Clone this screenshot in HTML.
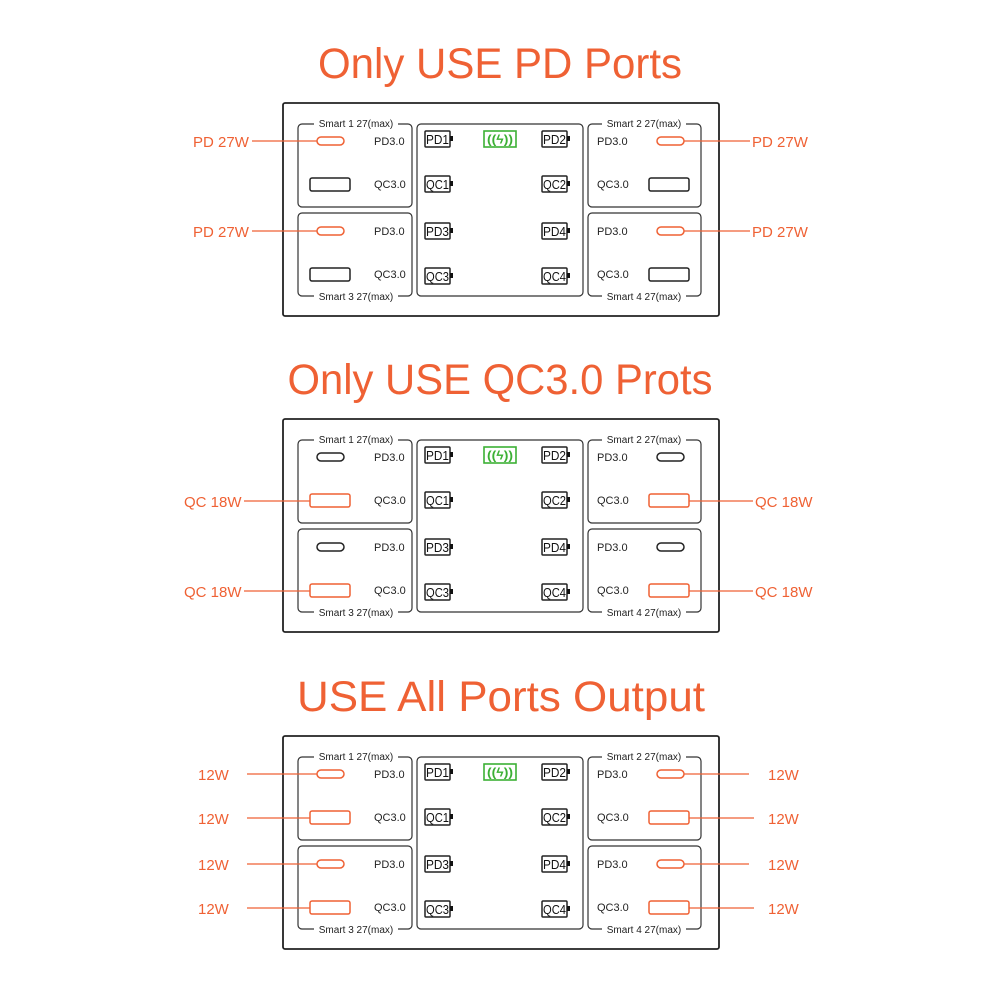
<!DOCTYPE html>
<html><head><meta charset="utf-8"><style>
html,body{margin:0;padding:0;background:#fff;}
svg{display:block;font-family:"Liberation Sans",sans-serif;}
.t{fill:#ef6134;font-size:43px;}
.s{font-size:10px;fill:#222;}
.p{font-size:11px;fill:#222;}
.c{font-size:12.5px;fill:#111;}
.o{fill:#ef6134;font-size:15px;}
.w{font-size:12px;fill:#3cb035;font-weight:bold;}
.box{fill:none;stroke:#333;stroke-width:1.2;}
.k{fill:none;stroke:#222;stroke-width:1.5;}
.r{fill:none;stroke:#ef6134;stroke-width:1.5;}
.l{stroke:#ef6134;stroke-width:1.3;}
</style></head><body>
<svg width="1000" height="1000" viewBox="0 0 1000 1000" xmlns="http://www.w3.org/2000/svg">
<text class="t" x="500" y="78" text-anchor="middle" textLength="364" lengthAdjust="spacingAndGlyphs">Only USE PD Ports</text>
<text class="t" x="500" y="394" text-anchor="middle" textLength="425" lengthAdjust="spacingAndGlyphs">Only USE QC3.0 Prots</text>
<text class="t" x="501" y="711" text-anchor="middle" textLength="408" lengthAdjust="spacingAndGlyphs">USE All Ports Output</text>

<!-- Panel 1 -->
<g transform="translate(0,0)">
<rect x="283" y="103" width="436" height="213" rx="2" fill="none" stroke="#222" stroke-width="1.8"/>
<rect class="box" x="298" y="124" width="114" height="83" rx="4"/>
<rect class="box" x="298" y="213" width="114" height="83" rx="4"/>
<rect class="box" x="417" y="124" width="166" height="172" rx="4"/>
<rect class="box" x="588" y="124" width="113" height="83" rx="4"/>
<rect class="box" x="588" y="213" width="113" height="83" rx="4"/>
<rect x="314" y="117" width="84" height="12" fill="#fff"/><text class="s" x="356" y="127" text-anchor="middle">Smart 1 27(max)</text>
<rect x="314" y="290" width="84" height="12" fill="#fff"/><text class="s" x="356" y="300" text-anchor="middle">Smart 3 27(max)</text>
<rect x="602" y="117" width="84" height="12" fill="#fff"/><text class="s" x="644" y="127" text-anchor="middle">Smart 2 27(max)</text>
<rect x="602" y="290" width="84" height="12" fill="#fff"/><text class="s" x="644" y="300" text-anchor="middle">Smart 4 27(max)</text>
<text class="p" x="374" y="145">PD3.0</text><text class="p" x="374" y="188">QC3.0</text>
<text class="p" x="374" y="235">PD3.0</text><text class="p" x="374" y="278">QC3.0</text>
<text class="p" x="597" y="145">PD3.0</text><text class="p" x="597" y="188">QC3.0</text>
<text class="p" x="597" y="235">PD3.0</text><text class="p" x="597" y="278">QC3.0</text>
<rect class="k" x="425" y="131" width="25" height="16" rx="1"/><rect x="450" y="136" width="3" height="5" fill="#111"/><text class="c" x="426" y="144" textLength="23" lengthAdjust="spacingAndGlyphs">PD1</text>
<rect class="k" x="542" y="131" width="25" height="16" rx="1"/><rect x="567" y="136" width="3" height="5" fill="#111"/><text class="c" x="543" y="144" textLength="23" lengthAdjust="spacingAndGlyphs">PD2</text>
<rect class="k" x="425" y="176" width="25" height="16" rx="1"/><rect x="450" y="181" width="3" height="5" fill="#111"/><text class="c" x="426" y="189" textLength="23" lengthAdjust="spacingAndGlyphs">QC1</text>
<rect class="k" x="542" y="176" width="25" height="16" rx="1"/><rect x="567" y="181" width="3" height="5" fill="#111"/><text class="c" x="543" y="189" textLength="23" lengthAdjust="spacingAndGlyphs">QC2</text>
<rect class="k" x="425" y="223" width="25" height="16" rx="1"/><rect x="450" y="228" width="3" height="5" fill="#111"/><text class="c" x="426" y="236" textLength="23" lengthAdjust="spacingAndGlyphs">PD3</text>
<rect class="k" x="542" y="223" width="25" height="16" rx="1"/><rect x="567" y="228" width="3" height="5" fill="#111"/><text class="c" x="543" y="236" textLength="23" lengthAdjust="spacingAndGlyphs">PD4</text>
<rect class="k" x="425" y="268" width="25" height="16" rx="1"/><rect x="450" y="273" width="3" height="5" fill="#111"/><text class="c" x="426" y="281" textLength="23" lengthAdjust="spacingAndGlyphs">QC3</text>
<rect class="k" x="542" y="268" width="25" height="16" rx="1"/><rect x="567" y="273" width="3" height="5" fill="#111"/><text class="c" x="543" y="281" textLength="23" lengthAdjust="spacingAndGlyphs">QC4</text>
<rect x="484" y="131" width="32" height="16" fill="none" stroke="#3cb035" stroke-width="1.6"/><text class="w" x="500" y="143.5" text-anchor="middle" textLength="26" lengthAdjust="spacingAndGlyphs">((ϟ))</text>
<rect class="r" x="317" y="137" width="27" height="8" rx="4"/>
<rect class="k" x="310" y="178" width="40" height="13" rx="2"/>
<rect class="r" x="317" y="227" width="27" height="8" rx="4"/>
<rect class="k" x="310" y="268" width="40" height="13" rx="2"/>
<rect class="r" x="657" y="137" width="27" height="8" rx="4"/>
<rect class="k" x="649" y="178" width="40" height="13" rx="2"/>
<rect class="r" x="657" y="227" width="27" height="8" rx="4"/>
<rect class="k" x="649" y="268" width="40" height="13" rx="2"/>
<line class="l" x1="252" y1="141" x2="317" y2="141"/><text class="o" x="193" y="147">PD 27W</text>
<line class="l" x1="252" y1="231" x2="317" y2="231"/><text class="o" x="193" y="237">PD 27W</text>
<line class="l" x1="684" y1="141" x2="750" y2="141"/><text class="o" x="752" y="147">PD 27W</text>
<line class="l" x1="684" y1="231" x2="750" y2="231"/><text class="o" x="752" y="237">PD 27W</text>
</g>

<!-- Panel 2 -->
<g transform="translate(0,316)">
<rect x="283" y="103" width="436" height="213" rx="2" fill="none" stroke="#222" stroke-width="1.8"/>
<rect class="box" x="298" y="124" width="114" height="83" rx="4"/>
<rect class="box" x="298" y="213" width="114" height="83" rx="4"/>
<rect class="box" x="417" y="124" width="166" height="172" rx="4"/>
<rect class="box" x="588" y="124" width="113" height="83" rx="4"/>
<rect class="box" x="588" y="213" width="113" height="83" rx="4"/>
<rect x="314" y="117" width="84" height="12" fill="#fff"/><text class="s" x="356" y="127" text-anchor="middle">Smart 1 27(max)</text>
<rect x="314" y="290" width="84" height="12" fill="#fff"/><text class="s" x="356" y="300" text-anchor="middle">Smart 3 27(max)</text>
<rect x="602" y="117" width="84" height="12" fill="#fff"/><text class="s" x="644" y="127" text-anchor="middle">Smart 2 27(max)</text>
<rect x="602" y="290" width="84" height="12" fill="#fff"/><text class="s" x="644" y="300" text-anchor="middle">Smart 4 27(max)</text>
<text class="p" x="374" y="145">PD3.0</text><text class="p" x="374" y="188">QC3.0</text>
<text class="p" x="374" y="235">PD3.0</text><text class="p" x="374" y="278">QC3.0</text>
<text class="p" x="597" y="145">PD3.0</text><text class="p" x="597" y="188">QC3.0</text>
<text class="p" x="597" y="235">PD3.0</text><text class="p" x="597" y="278">QC3.0</text>
<rect class="k" x="425" y="131" width="25" height="16" rx="1"/><rect x="450" y="136" width="3" height="5" fill="#111"/><text class="c" x="426" y="144" textLength="23" lengthAdjust="spacingAndGlyphs">PD1</text>
<rect class="k" x="542" y="131" width="25" height="16" rx="1"/><rect x="567" y="136" width="3" height="5" fill="#111"/><text class="c" x="543" y="144" textLength="23" lengthAdjust="spacingAndGlyphs">PD2</text>
<rect class="k" x="425" y="176" width="25" height="16" rx="1"/><rect x="450" y="181" width="3" height="5" fill="#111"/><text class="c" x="426" y="189" textLength="23" lengthAdjust="spacingAndGlyphs">QC1</text>
<rect class="k" x="542" y="176" width="25" height="16" rx="1"/><rect x="567" y="181" width="3" height="5" fill="#111"/><text class="c" x="543" y="189" textLength="23" lengthAdjust="spacingAndGlyphs">QC2</text>
<rect class="k" x="425" y="223" width="25" height="16" rx="1"/><rect x="450" y="228" width="3" height="5" fill="#111"/><text class="c" x="426" y="236" textLength="23" lengthAdjust="spacingAndGlyphs">PD3</text>
<rect class="k" x="542" y="223" width="25" height="16" rx="1"/><rect x="567" y="228" width="3" height="5" fill="#111"/><text class="c" x="543" y="236" textLength="23" lengthAdjust="spacingAndGlyphs">PD4</text>
<rect class="k" x="425" y="268" width="25" height="16" rx="1"/><rect x="450" y="273" width="3" height="5" fill="#111"/><text class="c" x="426" y="281" textLength="23" lengthAdjust="spacingAndGlyphs">QC3</text>
<rect class="k" x="542" y="268" width="25" height="16" rx="1"/><rect x="567" y="273" width="3" height="5" fill="#111"/><text class="c" x="543" y="281" textLength="23" lengthAdjust="spacingAndGlyphs">QC4</text>
<rect x="484" y="131" width="32" height="16" fill="none" stroke="#3cb035" stroke-width="1.6"/><text class="w" x="500" y="143.5" text-anchor="middle" textLength="26" lengthAdjust="spacingAndGlyphs">((ϟ))</text>
<rect class="k" x="317" y="137" width="27" height="8" rx="4"/>
<rect class="r" x="310" y="178" width="40" height="13" rx="2"/>
<rect class="k" x="317" y="227" width="27" height="8" rx="4"/>
<rect class="r" x="310" y="268" width="40" height="13" rx="2"/>
<rect class="k" x="657" y="137" width="27" height="8" rx="4"/>
<rect class="r" x="649" y="178" width="40" height="13" rx="2"/>
<rect class="k" x="657" y="227" width="27" height="8" rx="4"/>
<rect class="r" x="649" y="268" width="40" height="13" rx="2"/>
<line class="l" x1="244" y1="185" x2="310" y2="185"/><text class="o" x="184" y="191">QC 18W</text>
<line class="l" x1="244" y1="275" x2="310" y2="275"/><text class="o" x="184" y="281">QC 18W</text>
<line class="l" x1="689" y1="185" x2="753" y2="185"/><text class="o" x="755" y="191">QC 18W</text>
<line class="l" x1="689" y1="275" x2="753" y2="275"/><text class="o" x="755" y="281">QC 18W</text>
</g>

<!-- Panel 3 -->
<g transform="translate(0,633)">
<rect x="283" y="103" width="436" height="213" rx="2" fill="none" stroke="#222" stroke-width="1.8"/>
<rect class="box" x="298" y="124" width="114" height="83" rx="4"/>
<rect class="box" x="298" y="213" width="114" height="83" rx="4"/>
<rect class="box" x="417" y="124" width="166" height="172" rx="4"/>
<rect class="box" x="588" y="124" width="113" height="83" rx="4"/>
<rect class="box" x="588" y="213" width="113" height="83" rx="4"/>
<rect x="314" y="117" width="84" height="12" fill="#fff"/><text class="s" x="356" y="127" text-anchor="middle">Smart 1 27(max)</text>
<rect x="314" y="290" width="84" height="12" fill="#fff"/><text class="s" x="356" y="300" text-anchor="middle">Smart 3 27(max)</text>
<rect x="602" y="117" width="84" height="12" fill="#fff"/><text class="s" x="644" y="127" text-anchor="middle">Smart 2 27(max)</text>
<rect x="602" y="290" width="84" height="12" fill="#fff"/><text class="s" x="644" y="300" text-anchor="middle">Smart 4 27(max)</text>
<text class="p" x="374" y="145">PD3.0</text><text class="p" x="374" y="188">QC3.0</text>
<text class="p" x="374" y="235">PD3.0</text><text class="p" x="374" y="278">QC3.0</text>
<text class="p" x="597" y="145">PD3.0</text><text class="p" x="597" y="188">QC3.0</text>
<text class="p" x="597" y="235">PD3.0</text><text class="p" x="597" y="278">QC3.0</text>
<rect class="k" x="425" y="131" width="25" height="16" rx="1"/><rect x="450" y="136" width="3" height="5" fill="#111"/><text class="c" x="426" y="144" textLength="23" lengthAdjust="spacingAndGlyphs">PD1</text>
<rect class="k" x="542" y="131" width="25" height="16" rx="1"/><rect x="567" y="136" width="3" height="5" fill="#111"/><text class="c" x="543" y="144" textLength="23" lengthAdjust="spacingAndGlyphs">PD2</text>
<rect class="k" x="425" y="176" width="25" height="16" rx="1"/><rect x="450" y="181" width="3" height="5" fill="#111"/><text class="c" x="426" y="189" textLength="23" lengthAdjust="spacingAndGlyphs">QC1</text>
<rect class="k" x="542" y="176" width="25" height="16" rx="1"/><rect x="567" y="181" width="3" height="5" fill="#111"/><text class="c" x="543" y="189" textLength="23" lengthAdjust="spacingAndGlyphs">QC2</text>
<rect class="k" x="425" y="223" width="25" height="16" rx="1"/><rect x="450" y="228" width="3" height="5" fill="#111"/><text class="c" x="426" y="236" textLength="23" lengthAdjust="spacingAndGlyphs">PD3</text>
<rect class="k" x="542" y="223" width="25" height="16" rx="1"/><rect x="567" y="228" width="3" height="5" fill="#111"/><text class="c" x="543" y="236" textLength="23" lengthAdjust="spacingAndGlyphs">PD4</text>
<rect class="k" x="425" y="268" width="25" height="16" rx="1"/><rect x="450" y="273" width="3" height="5" fill="#111"/><text class="c" x="426" y="281" textLength="23" lengthAdjust="spacingAndGlyphs">QC3</text>
<rect class="k" x="542" y="268" width="25" height="16" rx="1"/><rect x="567" y="273" width="3" height="5" fill="#111"/><text class="c" x="543" y="281" textLength="23" lengthAdjust="spacingAndGlyphs">QC4</text>
<rect x="484" y="131" width="32" height="16" fill="none" stroke="#3cb035" stroke-width="1.6"/><text class="w" x="500" y="143.5" text-anchor="middle" textLength="26" lengthAdjust="spacingAndGlyphs">((ϟ))</text>
<rect class="r" x="317" y="137" width="27" height="8" rx="4"/>
<rect class="r" x="310" y="178" width="40" height="13" rx="2"/>
<rect class="r" x="317" y="227" width="27" height="8" rx="4"/>
<rect class="r" x="310" y="268" width="40" height="13" rx="2"/>
<rect class="r" x="657" y="137" width="27" height="8" rx="4"/>
<rect class="r" x="649" y="178" width="40" height="13" rx="2"/>
<rect class="r" x="657" y="227" width="27" height="8" rx="4"/>
<rect class="r" x="649" y="268" width="40" height="13" rx="2"/>
<line class="l" x1="247" y1="141" x2="317" y2="141"/><text class="o" x="198" y="147">12W</text>
<line class="l" x1="247" y1="185" x2="310" y2="185"/><text class="o" x="198" y="191">12W</text>
<line class="l" x1="247" y1="231" x2="317" y2="231"/><text class="o" x="198" y="237">12W</text>
<line class="l" x1="247" y1="275" x2="310" y2="275"/><text class="o" x="198" y="281">12W</text>
<line class="l" x1="684" y1="141" x2="749" y2="141"/><text class="o" x="768" y="147">12W</text>
<line class="l" x1="689" y1="185" x2="754" y2="185"/><text class="o" x="768" y="191">12W</text>
<line class="l" x1="684" y1="231" x2="749" y2="231"/><text class="o" x="768" y="237">12W</text>
<line class="l" x1="689" y1="275" x2="754" y2="275"/><text class="o" x="768" y="281">12W</text>
</g>
</svg>
</body></html>
